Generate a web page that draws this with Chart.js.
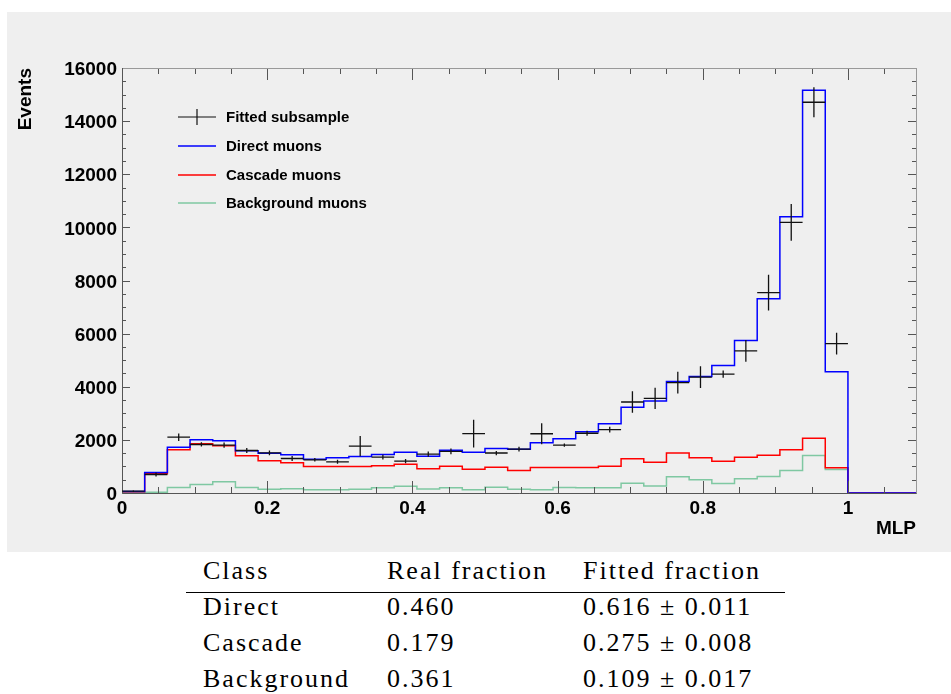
<!DOCTYPE html>
<html>
<head>
<meta charset="utf-8">
<title>MLP fit</title>
<script src="https://cdn.jsdelivr.net/npm/chart.js@4.4.1/dist/chart.umd.min.js"></script>
<style>
  html, body { margin: 0; padding: 0; background: #fff; }
  body { width: 951px; height: 694px; position: relative; overflow: hidden; }
  #panel { position: absolute; left: 7px; top: 12px; width: 944px; height: 540px; background: #efefef; }
  #tbl { position: absolute; left: 186px; top: 553px; width: 599px;
         font-family: "Liberation Serif", "DejaVu Serif", serif; font-size: 26px; color: #000; }
  .row { position: relative; height: 36px; line-height: 36px; white-space: nowrap; }
  .row span { position: absolute; top: 0; letter-spacing: 2px; }
  .c1 { left: 17px; } .c2 { left: 201px; } .c3 { left: 397px; }
  .rule { position: absolute; left: 0; width: 599px; top: 38.5px; border-top: 1.5px solid #000; }
</style>
</head>
<body>
<div id="panel"><canvas id="mlp" width="944" height="540"></canvas></div>
<div id="tbl">
  <div class="row"><span class="c1">Class</span><span class="c2">Real fraction</span><span class="c3">Fitted fraction</span></div>
  <div class="rule"></div>
  <div class="row"><span class="c1">Direct</span><span class="c2">0.460</span><span class="c3">0.616 ± 0.011</span></div>
  <div class="row"><span class="c1">Cascade</span><span class="c2">0.179</span><span class="c3">0.275 ± 0.008</span></div>
  <div class="row"><span class="c1">Background</span><span class="c2">0.361</span><span class="c3">0.109 ± 0.017</span></div>
</div>
<script>
// histogram binning: 35 bins of 1/32 on the MLP output
const binWidth = 1 / 32;
const nBins = 35;
const xMax = nBins * binWidth;

// events per bin
const fitted = [70, 696, 2100, 1826, 1800, 1600, 1513, 1299, 1250, 1175,
  1763, 1349, 1198, 1465, 1565, 2235, 1505, 1655, 2230, 1800,
  2250, 2385, 3425, 3560, 4155, 4360, 4475, 5350, 7545, 10190,
  14710, 5622, 0, 0, 0];
const fittedErr = [30, 75, 138, 80, 100, 90, 90, 90, 65, 75,
  380, 90, 80, 100, 110, 520, 80, 90, 395, 60,
  90, 110, 408, 400, 410, 410, 138, 408, 672, 690,
  565, 408, 0, 0, 0];
const direct = [60, 772, 1725, 2003, 1965, 1588, 1500, 1438, 1273, 1325,
  1374, 1450, 1537, 1386, 1612, 1537, 1675, 1650, 1890, 2040,
  2304, 2605, 3230, 3466, 4200, 4390, 4800, 5742, 7310, 10400,
  15160, 4568, 0, 0, 0];
const cascade = [50, 722, 1626, 1852, 1777, 1400, 1212, 1137, 998, 998,
  998, 1024, 1085, 911, 1010, 896, 971, 847, 960, 960,
  960, 1010, 1287, 1155, 1505, 1325, 1200, 1350, 1424, 1626,
  2063, 949, 0, 0, 0];
const background = [0, 30, 207, 320, 420, 207, 143, 158, 120, 120,
  143, 196, 256, 150, 196, 125, 215, 140, 125, 210,
  200, 200, 370, 265, 615, 497, 360, 540, 621, 847,
  1412, 885, 0, 0, 0];

const xTicks = [0, 0.2, 0.4, 0.6, 0.8, 1];
const yTicks = [0, 2000, 4000, 6000, 8000, 10000, 12000, 14000, 16000];
const xMinorStep = 0.05;
const yMinorStep = 500;

const BLUE = '#0000ff', RED = '#ff0000', GREEN = '#7fc8a2', INK = '#111';
const sans = 'Liberation Sans, Arial, Helvetica, sans-serif';

// outline of a histogram: one point on each left edge, plus the closing edge
function steps(values) {
  const pts = values.map((v, i) => ({ x: i * binWidth, y: v }));
  pts.push({ x: nBins * binWidth, y: values[values.length - 1] });
  return pts;
}

const fittedPts = [];
fitted.forEach((v, i) => {
  if (v > 0) fittedPts.push({ x: (i + 0.5) * binWidth, y: v, err: fittedErr[i] });
});

// ROOT-like frame with ticks pointing inwards on all four sides
const frameTicks = {
  id: 'frameTicks',
  afterDatasetsDraw(chart) {
    const { ctx, chartArea: a, scales: { x, y } } = chart;
    ctx.save();
    ctx.lineWidth = 1;
    ctx.strokeStyle = '#555';
    ctx.beginPath();
    for (let k = 0; k * xMinorStep <= xMax + 1e-9; k++) {
      const px = Math.round(x.getPixelForValue(k * xMinorStep)) + 0.5;
      const len = k % 4 === 0 ? 12 : 6;
      ctx.moveTo(px, a.bottom); ctx.lineTo(px, a.bottom - len);
      ctx.moveTo(px, a.top); ctx.lineTo(px, a.top + len);
    }
    for (let k = 0; k * yMinorStep <= 16000; k++) {
      const py = Math.round(y.getPixelForValue(k * yMinorStep)) + 0.5;
      const len = k % 4 === 0 ? 8 : 4;
      ctx.moveTo(a.left, py); ctx.lineTo(a.left + len, py);
      ctx.moveTo(a.right, py); ctx.lineTo(a.right - len, py);
    }
    ctx.stroke();
    ctx.strokeStyle = '#999';
    ctx.strokeRect(a.left + 0.5, a.top + 0.5, a.right - a.left, a.bottom - a.top);
    ctx.strokeStyle = '#555';
    ctx.beginPath();
    ctx.moveTo(a.left + 0.5, a.top); ctx.lineTo(a.left + 0.5, a.bottom + 0.5);
    ctx.lineTo(a.right + 0.5, a.bottom + 0.5);
    ctx.stroke();
    ctx.restore();
  }
};

// data points: full-bin horizontal bar + vertical error bar
const errorCross = {
  id: 'errorCross',
  afterDatasetsDraw(chart) {
    const { ctx, scales: { x, y } } = chart;
    ctx.save();
    ctx.strokeStyle = INK;
    ctx.lineWidth = 1.3;
    ctx.beginPath();
    fittedPts.forEach(p => {
      const cx = x.getPixelForValue(p.x);
      const x0 = x.getPixelForValue(p.x - binWidth / 2);
      const x1 = x.getPixelForValue(p.x + binWidth / 2);
      const cy = y.getPixelForValue(p.y);
      ctx.moveTo(x0, cy); ctx.lineTo(x1, cy);
      ctx.moveTo(cx, y.getPixelForValue(p.y - p.err));
      ctx.lineTo(cx, y.getPixelForValue(p.y + p.err));
    });
    ctx.stroke();
    ctx.restore();
  }
};

// legend box in the upper left of the frame
const legendBox = {
  id: 'legendBox',
  afterDraw(chart) {
    const { ctx, chartArea: a } = chart;
    const entries = [
      { label: 'Fitted subsample', color: INK, cross: true },
      { label: 'Direct muons', color: BLUE },
      { label: 'Cascade muons', color: RED },
      { label: 'Background muons', color: GREEN }
    ];
    const rowY = [49, 78, 107, 135];
    ctx.save();
    ctx.font = 'bold 15px ' + sans;
    ctx.textBaseline = 'middle';
    ctx.fillStyle = '#000';
    entries.forEach((e, i) => {
      const yy = a.top + rowY[i];
      ctx.strokeStyle = e.color;
      ctx.lineWidth = e.cross ? 1.2 : 1.5;
      ctx.beginPath();
      ctx.moveTo(a.left + 56, yy); ctx.lineTo(a.left + 94, yy);
      if (e.cross) { ctx.moveTo(a.left + 75, yy - 8); ctx.lineTo(a.left + 75, yy + 8); }
      ctx.stroke();
      ctx.fillText(e.label, a.left + 104, yy + 1);
    });
    ctx.restore();
  }
};

const tickFont = { family: sans, size: 19, weight: 'bold' };

new Chart(document.getElementById('mlp').getContext('2d'), {
  type: 'line',
  data: {
    datasets: [
      { label: 'Direct muons', data: steps(direct), borderColor: BLUE, order: 1 },
      { label: 'Cascade muons', data: steps(cascade), borderColor: RED, order: 2 },
      { label: 'Background muons', data: steps(background), borderColor: GREEN, order: 3 }
    ]
  },
  options: {
    responsive: false,
    animation: false,
    layout: { padding: { left: 0, right: 35, top: 56, bottom: 0 } },
    elements: {
      point: { radius: 0 },
      line: { borderWidth: 1.5, stepped: true, tension: 0, fill: false }
    },
    plugins: { legend: { display: false }, tooltip: { enabled: false } },
    scales: {
      x: {
        type: 'linear', min: 0, max: xMax,
        afterBuildTicks: s => { s.ticks = xTicks.map(v => ({ value: v })); },
        afterFit: s => { s.height = 59; },
        grid: { display: false, drawTicks: false },
        border: { display: false },
        ticks: { font: tickFont, color: '#000', padding: 4, maxRotation: 0, callback: v => String(v) },
        title: { display: true, text: 'MLP', align: 'end', color: '#000',
                 font: tickFont, padding: { top: 0, bottom: 12 } }
      },
      y: {
        type: 'linear', min: 0, max: 16000,
        afterBuildTicks: s => { s.ticks = yTicks.map(v => ({ value: v })); },
        afterFit: s => { s.width = 115; },
        grid: { display: false, drawTicks: false },
        border: { display: false },
        ticks: { font: tickFont, color: '#000', padding: 5, labelOffset: 2, callback: v => String(v) },
        title: { display: true, text: 'Events', align: 'end', color: '#000',
                 font: tickFont, padding: { top: 7, bottom: 0 } }
      }
    }
  },
  plugins: [frameTicks, errorCross, legendBox]
});
</script>
</body>
</html>
